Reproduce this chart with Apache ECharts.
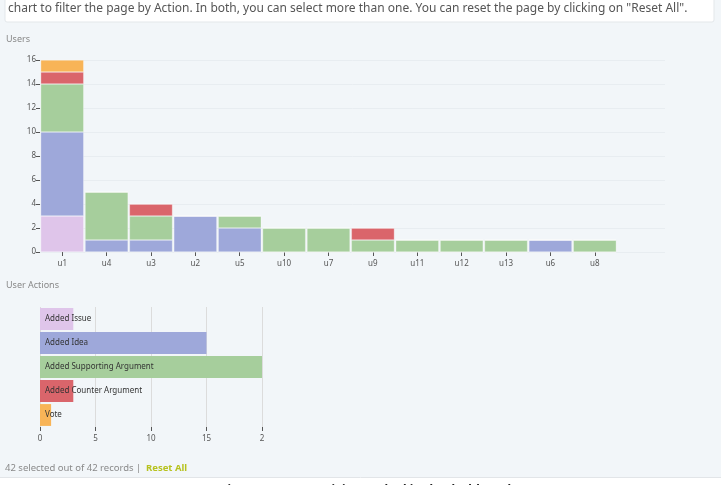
<!DOCTYPE html>
<html>
<head>
<meta charset="utf-8">
<script src="https://cdn.jsdelivr.net/npm/echarts@6/dist/echarts.min.js"></script>
<style>
html,body{margin:0;padding:0;background:#f2f6f9;}
#c{width:721px;height:485px;}
</style>
</head>
<body>
<div id="c"></div>
<script>
// ---- data ----
var users = ['u1','u4','u3','u2','u5','u10','u7','u9','u11','u12','u13','u6','u8'];
var actions = ['Added Issue','Added Idea','Added Supporting Argument','Added Counter Argument','Vote'];
var addedIssue      = [3,0,0,0,0,0,0,0,0,0,0,0,0];
var addedIdea       = [7,1,1,3,2,0,0,0,0,0,0,1,0];
var addedSupporting = [4,4,2,0,1,2,2,1,1,1,1,0,1];
var addedCounter    = [1,0,1,0,0,0,0,1,0,0,0,0,0];
var vote            = [1,0,0,0,0,0,0,0,0,0,0,0,0];
var actionTotals = [3,15,20,3,1];
var actionTickLabels = ['0','5','10','15','2'];
var userTickLabels = ['0','2','4','6','8','10','12','14','16'];

var colors = ['#dfc5ea','#9ea8da','#a6ce9c','#da656b','#f8b457'];
var FONT = 'Noto Sans';
var seriesData = [addedIssue, addedIdea, addedSupporting, addedCounter, vote];

var chart = echarts.init(document.getElementById('c'));
var series = [];
seriesData.forEach(function (d, i) {
  series.push({
    type: 'bar', name: actions[i], stack: 'u', xAxisIndex: 0, yAxisIndex: 0,
    data: d, barCategoryGap: '3%',
    itemStyle: { color: colors[i], borderColor: 'rgba(255,255,255,0.6)', borderWidth: 0.5 },
    emphasis: { disabled: true }
  });
});
series.push({
  type: 'bar', xAxisIndex: 2, yAxisIndex: 2, barCategoryGap: '9%',
  data: actionTotals.map(function (v, i) { return { value: v, itemStyle: { color: colors[i] } }; }),
  label: {
    show: true, position: 'insideLeft', distance: 5,
    formatter: function (p) { return actions[p.dataIndex]; },
    color: '#333', fontSize: 8, fontFamily: FONT
  },
  emphasis: { disabled: true }
});

chart.setOption({
  animation: false,
  backgroundColor: '#f2f6f9',
  textStyle: { fontFamily: FONT },
  grid: [
    { left: 40, right: 104, top: 60, bottom: 233 },
    { left: 40, right: 56, top: 60, bottom: 233 },
    { left: 40, right: 459, top: 307, bottom: 58 }
  ],
  xAxis: [
    { type: 'category', gridIndex: 0, data: users,
      axisLine: { show: false },
      axisTick: { show: true, alignWithLabel: true, length: 4, lineStyle: { color: '#555' } },
      axisLabel: { fontSize: 8, color: '#555', margin: 8, fontFamily: FONT } },
    { type: 'value', gridIndex: 1, show: false, min: 0, max: 1 },
    { type: 'value', gridIndex: 2, min: 0, max: 20, interval: 5,
      axisLine: { show: false },
      axisTick: { show: true, length: 4, lineStyle: { color: '#555' } },
      axisLabel: { fontSize: 8, color: '#555', margin: 8, fontFamily: FONT,
        formatter: function (v) { return actionTickLabels[v / 5]; } },
      splitLine: { show: true, lineStyle: { color: '#dcdcdc', width: 1 } } }
  ],
  yAxis: [
    { type: 'value', gridIndex: 0, min: 0, max: 16, interval: 2,
      axisLine: { show: false },
      axisTick: { show: true, length: 4, lineStyle: { color: '#555' } },
      axisLabel: { fontSize: 8, color: '#555', margin: 4, fontFamily: FONT,
        formatter: function (v) { return userTickLabels[v / 2]; } },
      splitLine: { show: false } },
    { type: 'value', gridIndex: 1, min: 0, max: 16, interval: 2,
      axisLine: { show: false }, axisTick: { show: false }, axisLabel: { show: false },
      splitLine: { show: true, lineStyle: { color: '#e8edf1', width: 1 } } },
    { type: 'category', gridIndex: 2, data: actions, inverse: true, show: false }
  ],
  series: series,
  graphic: [
    { type: 'rect', z: -1, shape: { x: 5, y: -5, width: 709, height: 27, r: 2 },
      style: { fill: '#ffffff', stroke: '#e3e7ea', lineWidth: 1 } },
    { type: 'text', left: 8, top: 3,
      style: { text: 'chart to filter the page by Action. In both, you can select more than one. You can reset the page by clicking on "Reset All".',
        fill: '#555', fontSize: 12, fontFamily: FONT } },
    { type: 'text', left: 6, top: 35, style: { text: 'Users', fill: '#888', fontSize: 9, fontFamily: FONT } },
    { type: 'text', left: 6, top: 281, style: { text: 'User Actions', fill: '#888', fontSize: 9, fontFamily: FONT } },
    { type: 'text', left: 5, top: 463, style: { text: '42 selected out of 42 records | ', fill: '#8a8a8a', fontSize: 9.5, fontFamily: FONT } },
    { type: 'text', left: 146, top: 463, style: { text: 'Reset All', fill: '#b7c21f', fontSize: 9.5, fontWeight: 'bold', fontFamily: FONT } },
    { type: 'rect', shape: { x: 0, y: 477, width: 721, height: 8 }, style: { fill: '#ffffff' } },
    { type: 'line', shape: { x1: 0, y1: 477.5, x2: 721, y2: 477.5 }, style: { stroke: '#e2e5e8', lineWidth: 1 } },
    { type: 'text', x: 221, y: 485, style: { text: 'Figure 11: User activity tracked in the dashboard', fill: '#222', fontSize: 12, fontWeight: 'bold', fontFamily: FONT, verticalAlign: 'top' } }
  ]
});
</script>
</body>
</html>
